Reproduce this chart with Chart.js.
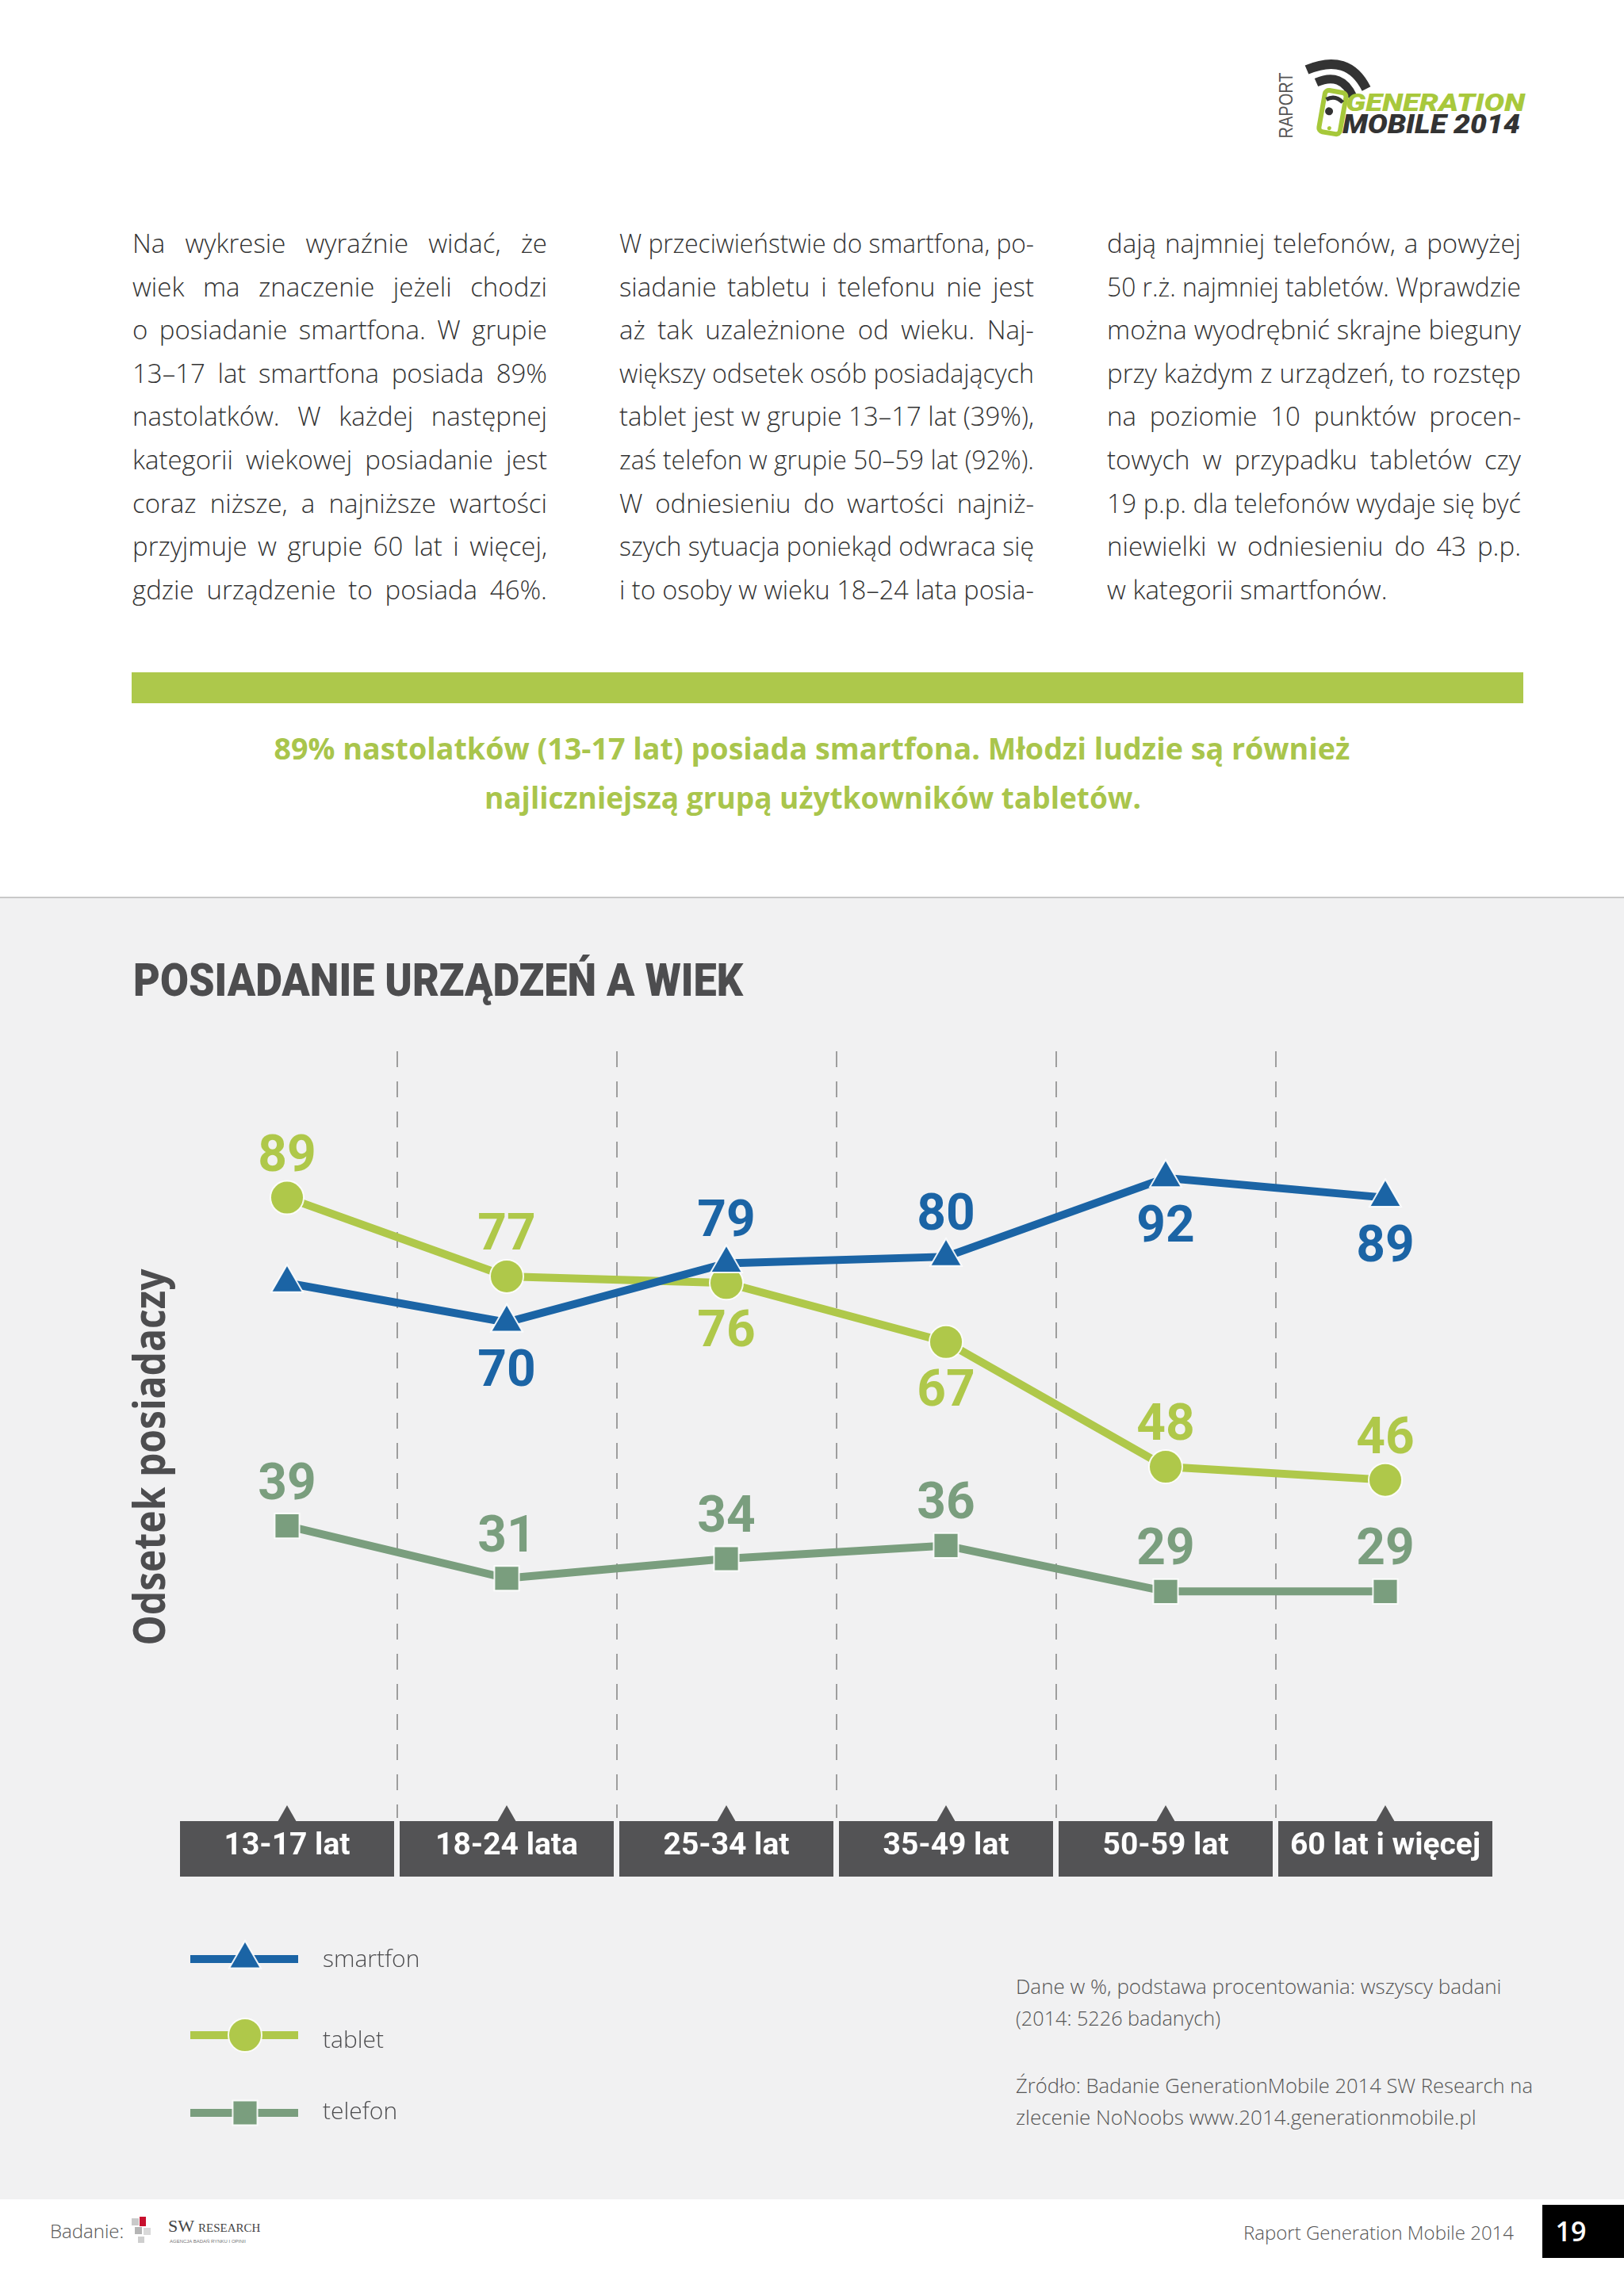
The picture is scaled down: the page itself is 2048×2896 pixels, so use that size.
<!DOCTYPE html>
<html lang="pl">
<head>
<meta charset="utf-8">
<title>Posiadanie urządzeń a wiek</title>
<script src="https://cdn.jsdelivr.net/npm/chart.js@4.4.1/dist/chart.umd.min.js"></script>
<style>
html,body{margin:0;padding:0;background:#fff;}
body{width:2048px;height:2896px;position:relative;overflow:hidden;}
#page{position:absolute;left:0;top:0;}
#chart{position:absolute;left:0;top:1140px;width:2048px;height:1634px;}
text{font-family:"Open Sans",sans-serif;}
</style>
</head>
<body>
<svg id="page" width="2048" height="2896" xmlns="http://www.w3.org/2000/svg">
  <rect x="0" y="1132" width="2048" height="1642" fill="#f1f1f2"/>
  <rect x="0" y="1131" width="2048" height="2" fill="#c9c9c9"/>

  <!-- logo -->
  <text transform="translate(1630,133) rotate(-90)" text-anchor="middle" font-size="24" fill="#555" style="font-family:'Liberation Sans',sans-serif" data-fit="83">RAPORT</text>
  <path d="M1648,88 Q1700,66 1723,112" stroke="#333" stroke-width="12" fill="none" stroke-linecap="butt"/>
  <path d="M1660,104 Q1692,90 1706,122" stroke="#333" stroke-width="11" fill="none"/>
  <g transform="rotate(10,1680,141)">
    <rect x="1667" y="115" width="27" height="53" rx="5" fill="none" stroke="#a6c83a" stroke-width="6"/>
    <path d="M1670,127 Q1680,119 1691,127" stroke="#333" stroke-width="5" fill="none"/>
    <circle cx="1676" cy="141" r="5" fill="#333"/>
    <circle cx="1680" cy="162" r="2.5" fill="#a6c83a"/>
  </g>
  <text x="1697" y="140" font-size="32" font-weight="900" font-style="italic" fill="#a8c83c" style="font-family:Roboto,sans-serif" data-fit="226">GENERATION</text>
  <text x="1693" y="168" font-size="34" font-weight="900" font-style="italic" fill="#333" style="font-family:Roboto,sans-serif" data-fit="224">MOBILE 2014</text>

  <!-- body text -->
  <g font-size="33" font-weight="300" fill="#333">
    <text x="167" y="319" data-j="523">Na wykresie wyraźnie widać, że</text>
    <text x="167" y="373.6" data-j="523">wiek ma znaczenie jeżeli chodzi</text>
    <text x="167" y="428.2" data-j="523">o posiadanie smartfona. W grupie</text>
    <text x="167" y="482.8" data-j="523">13–17 lat smartfona posiada 89%</text>
    <text x="167" y="537.4" data-j="523">nastolatków. W każdej następnej</text>
    <text x="167" y="592" data-j="523">kategorii wiekowej posiadanie jest</text>
    <text x="167" y="646.6" data-j="523">coraz niższe, a najniższe wartości</text>
    <text x="167" y="701.2" data-j="523">przyjmuje w grupie 60 lat i więcej,</text>
    <text x="167" y="755.8" data-j="523">gdzie urządzenie to posiada 46%.</text>

    <text x="781" y="319" data-j="523">W przeciwieństwie do smartfona, po-</text>
    <text x="781" y="373.6" data-j="523">siadanie tabletu i telefonu nie jest</text>
    <text x="781" y="428.2" data-j="523">aż tak uzależnione od wieku. Naj-</text>
    <text x="781" y="482.8" data-j="523">większy odsetek osób posiadających</text>
    <text x="781" y="537.4" data-j="523">tablet jest w grupie 13–17 lat (39%),</text>
    <text x="781" y="592" data-j="523">zaś telefon w grupie 50–59 lat (92%).</text>
    <text x="781" y="646.6" data-j="523">W odniesieniu do wartości najniż-</text>
    <text x="781" y="701.2" data-j="523">szych sytuacja poniekąd odwraca się</text>
    <text x="781" y="755.8" data-j="523">i to osoby w wieku 18–24 lata posia-</text>

    <text x="1396" y="319" data-j="522">dają najmniej telefonów, a powyżej</text>
    <text x="1396" y="373.6" data-j="522">50 r.ż. najmniej tabletów. Wprawdzie</text>
    <text x="1396" y="428.2" data-j="522">można wyodrębnić skrajne bieguny</text>
    <text x="1396" y="482.8" data-j="522">przy każdym z urządzeń, to rozstęp</text>
    <text x="1396" y="537.4" data-j="522">na poziomie 10 punktów procen-</text>
    <text x="1396" y="592" data-j="522">towych w przypadku tabletów czy</text>
    <text x="1396" y="646.6" data-j="522">19 p.p. dla telefonów wydaje się być</text>
    <text x="1396" y="701.2" data-j="522">niewielki w odniesieniu do 43 p.p.</text>
    <text x="1396" y="755.8">w kategorii smartfonów.</text>
  </g>

  <rect x="166" y="848" width="1755" height="39" fill="#adc84b"/>
  <g font-size="37" font-weight="700" fill="#a9c54c" text-anchor="middle">
    <text x="1024" y="958" data-fit="1357">89% nastolatków (13-17 lat) posiada smartfona. Młodzi ludzie są również</text>
    <text x="1025" y="1020" data-fit="833">najliczniejszą grupą użytkowników tabletów.</text>
  </g>

  <text x="168" y="1256" font-size="58" font-weight="900" fill="#4d4d4f" style="font-family:Roboto,sans-serif" data-fit="769">POSIADANIE URZĄDZEŃ A WIEK</text>

  <!-- notes -->
  <g font-size="26" font-weight="300" fill="#555">
    <text x="1281" y="2515" data-fit="607">Dane w %, podstawa procentowania: wszyscy badani</text>
    <text x="1281" y="2555" data-fit="258">(2014: 5226 badanych)</text>
    <text x="1281" y="2640" data-fit="652">Źródło: Badanie GenerationMobile 2014 SW Research na</text>
    <text x="1281" y="2680" data-fit="576">zlecenie NoNoobs www.2014.generationmobile.pl</text>
  </g>

  <!-- footer -->
  <text x="63" y="2823" font-size="24" font-weight="300" fill="#555">Badanie:</text>
  <g>
    <rect x="166" y="2798" width="9" height="9" fill="#c9c9c9"/>
    <rect x="176" y="2796" width="8" height="12" fill="#c8102e"/>
    <rect x="170" y="2809" width="9" height="9" fill="#b5b5b5"/>
    <rect x="181" y="2810" width="9" height="9" fill="#d9d9d9"/>
    <rect x="174" y="2821" width="8" height="8" fill="#cfcfcf"/>
    <text x="212" y="2815" font-size="22" fill="#444" style="font-family:'Liberation Serif',serif">SW <tspan font-size="15">RESEARCH</tspan></text>
    <text x="214" y="2829" font-size="6" fill="#777" style="font-family:'Liberation Sans',sans-serif">AGENCJA BADAŃ RYNKU I OPINII</text>
  </g>
  <text x="1909" y="2825" font-size="24" font-weight="300" fill="#555" text-anchor="end">Raport Generation Mobile 2014</text>
  <rect x="1945" y="2781" width="103" height="67" fill="#000"/>
  <text x="1981" y="2827" font-size="34" font-weight="600" fill="#fff" text-anchor="middle">19</text>
</svg>
<canvas id="chart" width="2048" height="1634"></canvas>
<script>
// ---- data ----
const categories = ['13-17 lat', '18-24 lata', '25-34 lat', '35-49 lat', '50-59 lat', '60 lat i więcej'];
const seriesNames = ['smartfon', 'tablet', 'telefon'];
const smartfon = [76, 70, 79, 80, 92, 89];
const tablet = [89, 77, 76, 67, 48, 46];
const telefon = [39, 31, 34, 36, 29, 29];

// label placement: -1 above, 1 below, 0 none
const labelSide = {
  smartfon: [0, 1, -1, -1, 1, 1],
  tablet: [-1, -1, 1, 1, -1, -1],
  telefon: [-1, -1, -1, -1, -1, -1]
};
const colors = { smartfon: '#1b64a5', tablet: '#afc84a', telefon: '#7a9e7e' };
const styles = { smartfon: ['triangle', 23], tablet: ['circle', 21], telefon: ['rect', 22] };
const legendY = [1331, 1427, 1525];
const legendTextY = [1341, 1443, 1533];

function fitAll() {
  document.querySelectorAll('#page text[data-fit]').forEach(t => {
    const target = +t.dataset.fit;
    const w = t.getComputedTextLength();
    if (Math.abs(w - target) / target > 0.01) {
      t.setAttribute('textLength', target);
      t.setAttribute('lengthAdjust', 'spacingAndGlyphs');
    }
  });
  document.querySelectorAll('#page text[data-j]').forEach(t => {
    const W = +t.dataset.j;
    const w = t.getComputedTextLength();
    const n = (t.textContent.match(/ /g) || []).length;
    if (w > W) {
      t.setAttribute('textLength', W);
      t.setAttribute('lengthAdjust', 'spacingAndGlyphs');
    } else if (n) {
      t.style.wordSpacing = ((W - w) / n) + 'px';
    }
  });
}

const boxPlugin = {
  id: 'boxes',
  beforeDraw(chart) {
    const { ctx, chartArea } = chart;
    const x = chart.scales.x;
    const step = x.getPixelForTick(1) - x.getPixelForTick(0);
    const half = step / 2 - 3.5;
    const top = chartArea.bottom + 4;
    ctx.save();
    ctx.fillStyle = '#535355';
    categories.forEach((c, i) => {
      const px = x.getPixelForTick(i);
      ctx.fillRect(px - half, top, half * 2, 70);
      ctx.beginPath();
      ctx.moveTo(px - 12, top + 1);
      ctx.lineTo(px, top - 20);
      ctx.lineTo(px + 12, top + 1);
      ctx.closePath();
      ctx.fill();
    });
    ctx.restore();
  }
};

const labelPlugin = {
  id: 'vlabels',
  afterDatasetsDraw(chart) {
    const ctx = chart.ctx;
    ctx.save();
    ctx.font = '700 64px Roboto';
    ctx.textAlign = 'center';
    ctx.textBaseline = 'alphabetic';
    chart.data.datasets.forEach((ds, di) => {
      const meta = chart.getDatasetMeta(di);
      meta.data.forEach((pt, i) => {
        const side = labelSide[ds.label][i];
        if (!side) return;
        ctx.fillStyle = ds.borderColor;
        ctx.fillText(String(ds.data[i]), pt.x, pt.y + side * 57 + 23);
      });
    });
    ctx.restore();
  }
};

const extrasPlugin = {
  id: 'extras',
  afterDraw(chart) {
    const ctx = chart.ctx;
    // y-axis title
    ctx.save();
    ctx.translate(208, 698);
    ctx.rotate(-Math.PI / 2);
    ctx.font = '700 56px "Open Sans"';
    ctx.fillStyle = '#4d4d4f';
    ctx.textAlign = 'center';
    ctx.textBaseline = 'alphabetic';
    const title = 'Odsetek posiadaczy';
    const w = ctx.measureText(title).width;
    ctx.scale(475 / w, 1);
    ctx.fillText(title, 0, 0);
    ctx.restore();
    // legend
    chart.data.datasets.forEach((ds, i) => {
      const y = legendY[i];
      ctx.save();
      ctx.strokeStyle = ds.borderColor;
      ctx.lineWidth = 10;
      ctx.beginPath();
      ctx.moveTo(240, y);
      ctx.lineTo(376, y);
      ctx.stroke();
      ctx.fillStyle = ds.borderColor;
      ctx.strokeStyle = 'rgba(255,255,255,0.9)';
      ctx.lineWidth = 2;
      Chart.helpers.drawPoint(ctx, { pointStyle: ds.pointStyle, radius: ds.pointRadius, rotation: 0, borderWidth: 2 }, 309, y);
      ctx.font = '300 30px "Open Sans"';
      ctx.fillStyle = '#4d4d4f';
      ctx.textAlign = 'left';
      ctx.textBaseline = 'alphabetic';
      ctx.fillText(ds.label, 407, legendTextY[i]);
      ctx.restore();
    });
  }
};

function makeChart() {
  const series = { smartfon, tablet, telefon };
  const datasets = seriesNames.map(name => ({
    label: name,
    data: series[name],
    borderColor: colors[name],
    backgroundColor: colors[name],
    borderWidth: 10,
    tension: 0,
    pointStyle: styles[name][0],
    pointRadius: styles[name][1],
    pointHoverRadius: styles[name][1],
    pointBackgroundColor: colors[name],
    pointBorderColor: 'rgba(255,255,255,0.9)',
    pointBorderWidth: 2
  }));
  new Chart(document.getElementById('chart'), {
    type: 'line',
    data: { labels: categories, datasets },
    options: {
      responsive: false,
      animation: false,
      devicePixelRatio: 1,
      layout: { padding: { left: 223.5, right: 162.5, top: 186, bottom: 401 } },
      plugins: { legend: { display: false }, tooltip: { enabled: false } },
      scales: {
        x: {
          offset: true,
          grid: {
            offset: true,
            drawTicks: false,
            lineWidth: 2,
            color: c => (c.type !== 'tick' || c.index === 0) ? 'rgba(0,0,0,0)' : '#9e9e9e'
          },
          border: { display: false, dash: [20, 18] },
          ticks: {
            color: '#ffffff',
            font: { family: 'Roboto', weight: 'bold', size: 39 },
            padding: 13,
            maxRotation: 0,
            minRotation: 0,
            autoSkip: false
          },
          afterFit: s => { s.height = 80; }
        },
        y: { display: false, min: -5.5, max: 111.3 }
      }
    },
    plugins: [boxPlugin, labelPlugin, extrasPlugin]
  });
}

document.fonts.ready.then(() => {
  fitAll();
  makeChart();
});
</script>
</body>
</html>
